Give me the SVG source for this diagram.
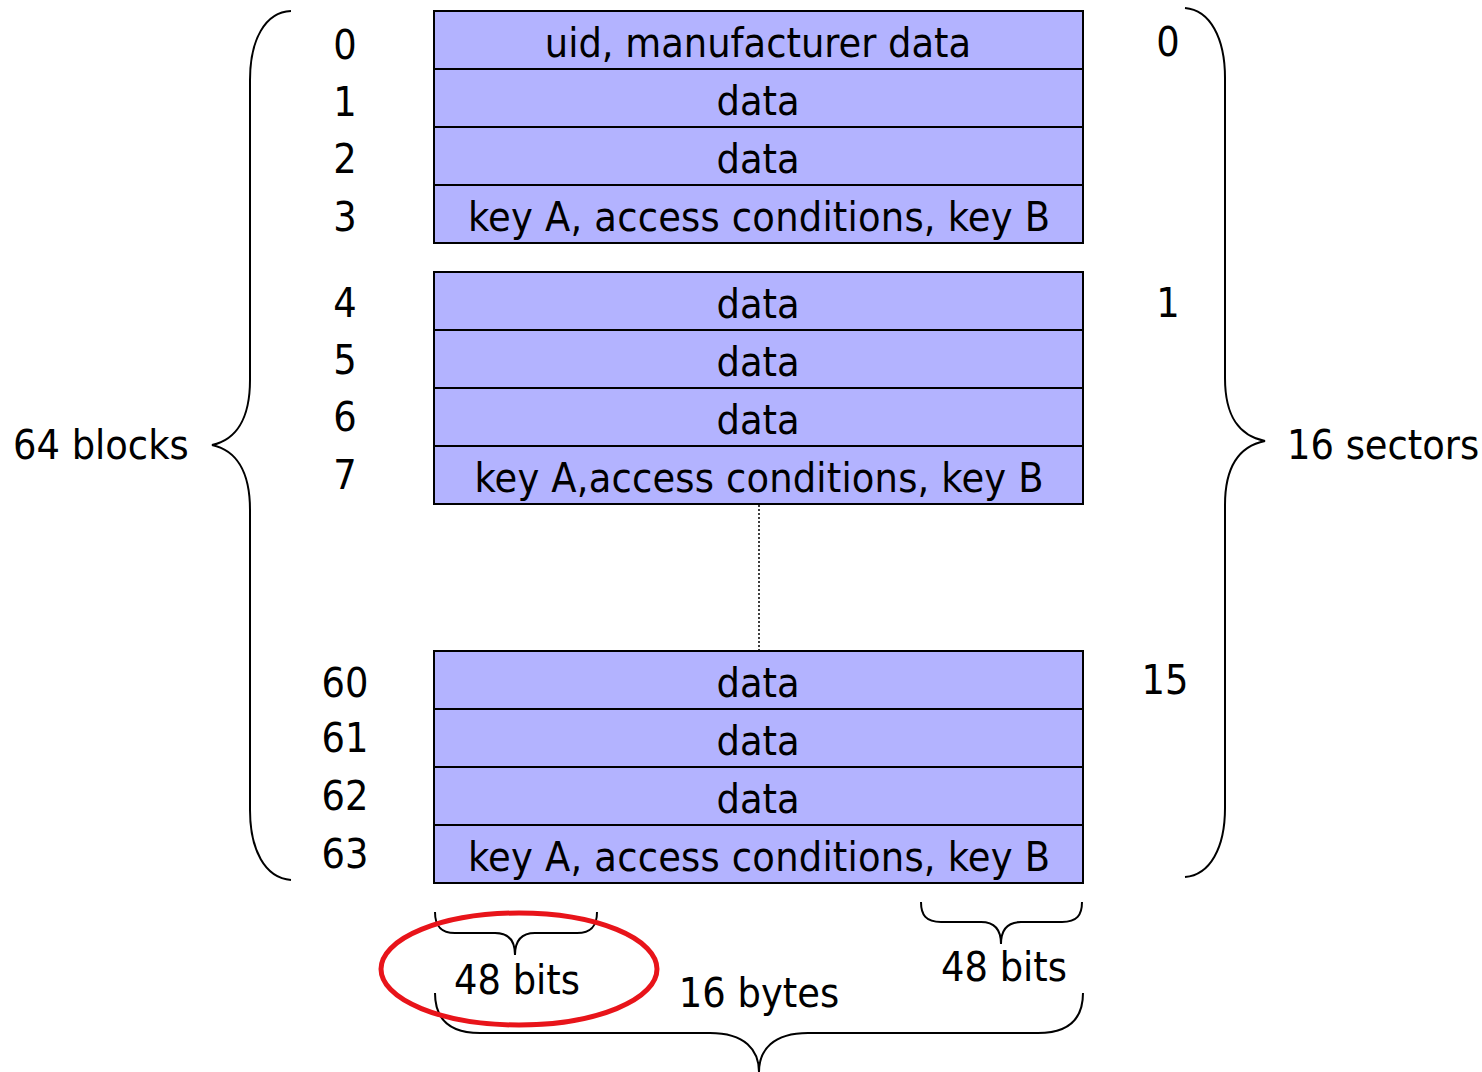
<svg xmlns="http://www.w3.org/2000/svg" width="1482" height="1072" viewBox="0 0 1482 1072">
<style>
text{font-family:"DejaVu Sans Condensed","DejaVu Sans",sans-serif;font-size:41px;fill:#000}
.c{text-anchor:middle}
.blk{fill:#b3b3ff;stroke:#000;stroke-width:2}
.br{fill:none;stroke:#000;stroke-width:2}
</style>
<rect width="1482" height="1072" fill="#fff"/>
<g id="sector0">
<rect class="blk" x="434" y="11" width="649" height="58"/>
<rect class="blk" x="434" y="69" width="649" height="58"/>
<rect class="blk" x="434" y="127" width="649" height="58"/>
<rect class="blk" x="434" y="185" width="649" height="58"/>
<text class="c" x="758" y="57">uid, manufacturer data</text>
<text class="c" x="758" y="115">data</text>
<text class="c" x="758" y="173">data</text>
<text class="c" x="759" y="231" textLength="582">key A, access conditions, key B</text>
</g>
<g id="sector1">
<rect class="blk" x="434" y="272" width="649" height="58"/>
<rect class="blk" x="434" y="330" width="649" height="58"/>
<rect class="blk" x="434" y="388" width="649" height="58"/>
<rect class="blk" x="434" y="446" width="649" height="58"/>
<text class="c" x="758" y="318">data</text>
<text class="c" x="758" y="376">data</text>
<text class="c" x="758" y="434">data</text>
<text class="c" x="759" y="492" textLength="569">key A,access conditions, key B</text>
</g>
<g id="sector15">
<rect class="blk" x="434" y="651" width="649" height="58"/>
<rect class="blk" x="434" y="709" width="649" height="58"/>
<rect class="blk" x="434" y="767" width="649" height="58"/>
<rect class="blk" x="434" y="825" width="649" height="58"/>
<text class="c" x="758" y="697">data</text>
<text class="c" x="758" y="755">data</text>
<text class="c" x="758" y="813">data</text>
<text class="c" x="759" y="871" textLength="582">key A, access conditions, key B</text>
</g>
<g id="blocknums">
<text class="c" x="345" y="59">0</text>
<text class="c" x="345" y="116">1</text>
<text class="c" x="345" y="173">2</text>
<text class="c" x="345" y="231">3</text>
<text class="c" x="345" y="317">4</text>
<text class="c" x="345" y="374">5</text>
<text class="c" x="345" y="431">6</text>
<text class="c" x="345" y="489">7</text>
<text class="c" x="345" y="697">60</text>
<text class="c" x="345" y="752">61</text>
<text class="c" x="345" y="810">62</text>
<text class="c" x="345" y="868">63</text>
</g>
<g id="sectornums">
<text class="c" x="1168" y="56">0</text>
<text class="c" x="1168" y="317">1</text>
<text class="c" x="1165" y="694">15</text>
</g>
<g id="connectors">
<line x1="759" y1="505" x2="759" y2="650" stroke="#000" stroke-width="1.5" stroke-dasharray="2,2"/>
<path class="br" d="M291,11 C265,12 250,40 250,80 L250,380 C250,420 235,440 212,445 C235,450 250,470 250,510 L250,810 C250,850 265,878 291,880"/>
<path class="br" d="M1185,8 C1210,10 1225,38 1225,78 L1225,378 C1225,418 1240,436 1265,441 C1240,446 1225,465 1225,505 L1225,808 C1225,848 1210,875 1185,877"/>
<path class="br" d="M435,912 C435,925 440,933 455,933 L495,933 C508,933 515,940 515,955 C515,940 522,933 535,933 L577,933 C592,933 597,925 597,912"/>
<path class="br" d="M921,902 C921,915 926,922 941,922 L981,922 C994,922 1001,929 1001,944 C1001,929 1008,922 1021,922 L1062,922 C1077,922 1082,915 1082,902"/>
<path class="br" d="M435,993 C435,1020 450,1033 480,1033 L710,1033 C745,1033 759,1050 759,1072 C759,1050 773,1033 808,1033 L1038,1033 C1068,1033 1083,1020 1083,993"/>
</g>
<g id="labels">
<text x="13" y="459">64 blocks</text>
<text x="1287" y="459">16 sectors</text>
<text class="c" x="517" y="994">48 bits</text>
<text class="c" x="759" y="1007">16 bytes</text>
<text class="c" x="1004" y="981">48 bits</text>
</g>
<ellipse id="highlight" cx="519" cy="969" rx="138" ry="56" fill="none" stroke="#e8141a" stroke-width="5"/>
</svg>
